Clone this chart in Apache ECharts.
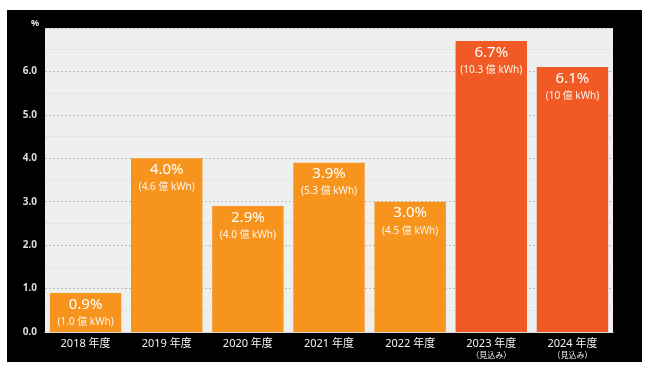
<!DOCTYPE html>
<html>
<head>
<meta charset="utf-8">
<script src="https://cdn.jsdelivr.net/npm/echarts@6/dist/echarts.min.js"></script>
<style>
html,body{margin:0;padding:0;background:#fff;}
#frame{position:absolute;left:7px;top:10px;width:635px;height:352px;background:#000;}
#chart{position:absolute;left:0;top:0;width:650px;height:371px;}
</style>
</head>
<body>
<div id="frame"></div>
<div id="chart"></div>
<script>
const categories = ['2018 年度', '2019 年度', '2020 年度', '2021 年度', '2022 年度', '2023 年度', '2024 年度'];
const notes = ['', '', '', '', '', '（見込み）', '（見込み）'];
const shares = [0.9, 4.0, 2.9, 3.9, 3.0, 6.7, 6.1];
const kwh = ['1.0', '4.6', '4.0', '5.3', '4.5', '10.3', '10'];
const yTicks = [0, 1, 2, 3, 4, 5, 6];

const ORANGE = '#F7941E';
const RED = '#F15A24';
const FONT = '"Noto Sans", "Noto Sans CJK JP", sans-serif';

const chart = echarts.init(document.getElementById('chart'), null, {renderer: 'canvas'});
chart.setOption({
  backgroundColor: 'transparent',
  animation: false,
  textStyle: {fontFamily: FONT},
  grid: {left: 45, right: 37, top: 28, bottom: 39, show: true, backgroundColor: '#efefef', borderWidth: 0},
  xAxis: {
    type: 'category',
    data: categories,
    axisLine: {show: true, lineStyle: {color: '#d8d8d8', width: 1}},
    axisTick: {show: false},
    axisLabel: {
      interval: 0,
      margin: 5,
      color: '#f2f2f2',
      fontFamily: FONT,
      formatter: function (v, i) {
        return notes[i] ? '{a|' + v + '}\n{b|' + notes[i] + '}' : '{a|' + v + '}';
      },
      rich: {
        a: {fontSize: 11, lineHeight: 13, color: '#f2f2f2', fontFamily: FONT},
        b: {fontSize: 8, lineHeight: 10, color: '#f2f2f2', fontFamily: '"Noto Sans CJK JP", sans-serif'}
      }
    }
  },
  yAxis: {
    type: 'value',
    min: 0, max: 7, interval: 1,
    name: '%',
    nameLocation: 'end',
    nameGap: 0,
    nameTextStyle: {color: '#e8e8e8', fontSize: 9, fontWeight: 'bold', align: 'right', verticalAlign: 'bottom', padding: [0, 6, 0, 0]},
    axisLine: {show: false},
    axisTick: {show: false},
    axisLabel: {
      color: '#dcdcdc', fontSize: 10, fontWeight: 'bold', margin: 8,
      formatter: function (v) { return yTicks.indexOf(v) >= 0 ? v.toFixed(1) : ''; }
    },
    splitLine: {show: true, lineStyle: {color: '#bdbdbd', type: [2, 2], width: 1}},
    minorTick: {show: false, splitNumber: 2},
    minorSplitLine: {show: true, lineStyle: {color: '#d9d9d9', type: [2, 2], width: 1}}
  },
  series: [{
    type: 'bar',
    data: shares.map(function (v, i) {
      return {value: v, itemStyle: {color: notes[i] ? RED : ORANGE}};
    }),
    barCategoryGap: '12%',
    label: {
      show: true,
      position: 'insideTop',
      distance: 2,
      formatter: function (p) {
        return '{p|' + shares[p.dataIndex].toFixed(1) + '%}\n{k|(' + kwh[p.dataIndex] + ' 億 kWh)}';
      },
      rich: {
        p: {fontSize: 15, lineHeight: 19, color: '#ffffff', fontFamily: FONT},
        k: {fontSize: 10, lineHeight: 16, color: '#fff4e8', fontFamily: FONT}
      }
    }
  }]
});
</script>
</body>
</html>
